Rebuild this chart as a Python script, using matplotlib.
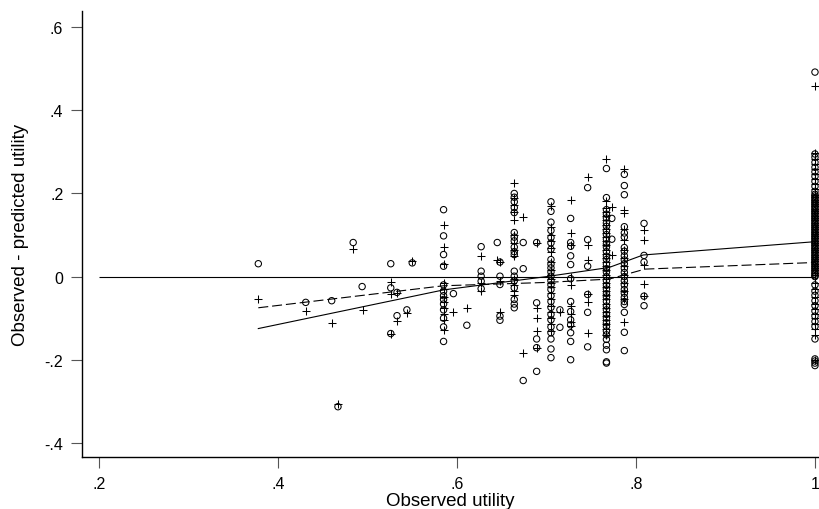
import matplotlib
matplotlib.use("Agg")
import matplotlib.pyplot as plt

plt.rcParams['font.family'] = ['Liberation Sans', 'DejaVu Sans']

# ---- data ----
# circles: residuals of model A ; plus: residuals of model B
circ_x = ([0.378, 0.431, 0.460, 0.467, 0.484, 0.494]
          + [0.526] * 3 + [0.533] * 2 + [0.544, 0.550]
          + [0.585] * 13 + [0.596, 0.611]
          + [0.627] * 5 + [0.645] + [0.648] * 5
          + [0.664] * 18 + [0.674] * 3 + [0.689] * 5
          + [0.705] * 25 + [0.715] * 2 + [0.727] * 13
          + [0.746] * 6 + [0.773] * 2 + [0.767] * 38
          + [0.787] * 24 + [0.809] * 5 + [1.0] * 75)
circ_y = ([0.031, -0.062, -0.058, -0.313, 0.082, -0.024]
          + [0.031, -0.027, -0.137] + [-0.038, -0.094] + [-0.080, 0.033]
          + [0.161, 0.098, 0.053, 0.025, -0.020, -0.035, -0.046, -0.055,
             -0.066, -0.080, -0.100, -0.121, -0.156]
          + [-0.041, -0.117]
          + [0.072, 0.013, 0.001, -0.011, -0.029] + [0.082]
          + [0.035, 0.001, -0.019, -0.095, -0.105]
          + [0.200, 0.191, 0.180, 0.166, 0.154, 0.106, 0.095, 0.086, 0.071,
             0.060, 0.053, 0.013, 0.001, -0.010, -0.027, -0.055, -0.066, -0.075]
          + [0.082, 0.019, -0.250]
          + [0.082, -0.063, -0.150, -0.171, -0.228]
          + [0.180, 0.157, 0.131, 0.111, 0.094, 0.081, 0.066, 0.041, 0.030,
             0.021, 0.011, 0.001, -0.010, -0.020, -0.031, -0.046, -0.060,
             -0.074, -0.091, -0.104, -0.121, -0.135, -0.150, -0.174, -0.195]
          + [-0.080, -0.122]
          + [0.140, 0.082, 0.073, 0.050, 0.029, -0.005, -0.060, -0.084,
             -0.104, -0.116, -0.135, -0.156, -0.200]
          + [0.214, 0.089, 0.025, -0.043, -0.086, -0.169]
          + [0.140, 0.090]
          + [0.260, 0.190, 0.161, 0.150, 0.141, 0.129, 0.121, 0.110, 0.101,
             0.090, 0.079, 0.071, 0.060, 0.049, 0.041, 0.030, 0.019, 0.011,
             0.000, -0.010, -0.021, -0.030, -0.041, -0.049, -0.060, -0.071,
             -0.080, -0.091, -0.100, -0.111, -0.120, -0.131, -0.140, -0.151,
             -0.165, -0.176, -0.205, -0.208]
          + [0.246, 0.219, 0.197, 0.120, 0.105, 0.095, 0.070, 0.061, 0.050,
             0.040, 0.031, 0.020, 0.010, 0.000, -0.010, -0.020, -0.031,
             -0.040, -0.050, -0.060, -0.067, -0.086, -0.134, -0.178]
          + [0.128, 0.051, 0.035, -0.047, -0.070]
          + [0.492, 0.295, 0.287, 0.275, 0.263, 0.252, 0.241, 0.229, 0.217,
             0.205, 0.198, 0.194, 0.190, 0.186, 0.182, 0.178, 0.174, 0.170,
             0.166, 0.162, 0.158, 0.154, 0.150, 0.146, 0.142, 0.138, 0.134,
             0.130, 0.126, 0.122, 0.118, 0.114, 0.110, 0.106, 0.102, 0.098,
             0.094, 0.090, 0.086, 0.082, 0.078, 0.074, 0.070, 0.066, 0.062,
             0.058, 0.054, 0.050, 0.046, 0.042, 0.038, 0.034, 0.030, 0.026,
             0.022, 0.018, 0.014, 0.010, 0.006, 0.002, 0.000,
             -0.020, -0.035, -0.045, -0.058, -0.070, -0.083, -0.095, -0.108,
             -0.120, -0.150, -0.198, -0.203, -0.208, -0.214])

plus_x = ([0.378, 0.431, 0.460, 0.467, 0.484, 0.495]
          + [0.526] * 3 + [0.533] * 2 + [0.544, 0.550]
          + [0.585] * 11 + [0.596, 0.611]
          + [0.627] * 3 + [0.645] + [0.648] * 3
          + [0.664] * 13 + [0.674] * 2 + [0.689] * 5
          + [0.705] * 19 + [0.715] + [0.727] * 9
          + [0.746] * 6 + [0.773] * 2 + [0.767] * 33
          + [0.787] * 13 + [0.809] * 5 + [1.0] * 56)
plus_y = ([-0.053, -0.082, -0.111, -0.306, 0.067, -0.080]
          + [-0.012, -0.043, -0.137] + [-0.040, -0.108] + [-0.087, 0.038]
          + [0.124, 0.071, 0.031, -0.015, -0.030, -0.050, -0.060, -0.075,
             -0.090, -0.105, -0.128]
          + [-0.084, -0.075]
          + [0.049, -0.015, -0.035] + [0.041] + [0.035, -0.011, -0.084]
          + [0.224, 0.190, 0.172, 0.155, 0.135, 0.100, 0.080, 0.065, 0.050,
             -0.005, -0.020, -0.035, -0.045]
          + [0.143, -0.184]
          + [0.082, -0.075, -0.099, -0.132, -0.171]
          + [0.170, 0.120, 0.100, 0.085, 0.070, 0.058, 0.035, 0.015, 0.005,
             -0.005, -0.015, -0.025, -0.040, -0.055, -0.070, -0.085, -0.100,
             -0.115, -0.130]
          + [-0.084]
          + [0.184, 0.104, 0.075, 0.000, -0.020, -0.070, -0.090, -0.110, -0.120]
          + [0.240, 0.075, 0.041, -0.043, -0.060, -0.135]
          + [0.168, 0.053]
          + [0.284, 0.181, 0.165, 0.155, 0.145, 0.135, 0.125, 0.115, 0.105,
             0.095, 0.085, 0.075, 0.065, 0.055, 0.045, 0.035, 0.025, 0.015,
             0.005, -0.005, -0.015, -0.025, -0.035, -0.045, -0.055, -0.065,
             -0.075, -0.085, -0.095, -0.105, -0.115, -0.125, -0.140]
          + [0.260, 0.161, 0.154, 0.115, 0.089, 0.065, 0.045, 0.025, 0.005,
             -0.015, -0.035, -0.055, -0.110]
          + [0.113, 0.087, 0.027, -0.018, -0.046]
          + [0.459, 0.298, 0.282, 0.270, 0.258, 0.246, 0.235, 0.222, 0.210,
             0.196, 0.191, 0.185, 0.180, 0.174, 0.169, 0.163, 0.158, 0.152,
             0.147, 0.141, 0.136, 0.130, 0.125, 0.119, 0.114, 0.108, 0.103,
             0.097, 0.092, 0.086, 0.081, 0.075, 0.070, 0.064, 0.059, 0.053,
             0.048, 0.042, 0.037, 0.031, 0.026, 0.020, 0.015, 0.009, 0.004,
             -0.015, -0.030, -0.050, -0.065, -0.078, -0.090, -0.100, -0.115,
             -0.125, -0.140, -0.200])

# smoothed (lowess) lines
solid_x = [0.378, 0.585, 0.700, 0.770, 0.808, 1.0]
solid_y = [-0.125, -0.032, 0.000, 0.022, 0.052, 0.084]
dash_x = [0.378, 0.585, 0.700, 0.770, 0.810, 1.0]
dash_y = [-0.075, -0.022, -0.014, -0.006, 0.018, 0.034]

xticks = [0.2, 0.4, 0.6, 0.8, 1.0]
xticklabels = ['.2', '.4', '.6', '.8', '1']
yticks = [-0.4, -0.2, 0.0, 0.2, 0.4, 0.6]
yticklabels = ['-.4', '-.2', '0', '.2', '.4', '.6']

# ---- figure ----
W, H = 819, 510
fig = plt.figure(figsize=(W / 100, H / 100), dpi=100)
ax = fig.add_axes([82 / W, 1 - 458 / H, (W - 82) / W, (458 - 12) / H])

ax.set_xlim(0.181, 1.0045)
ax.set_ylim(-0.434, 0.639)

ax.hlines(0, 0.2, 1.0, color='black', lw=0.8, zorder=2)
ax.plot(solid_x, solid_y, color='black', lw=0.8, zorder=3)
ax.plot(dash_x, dash_y, color='black', lw=0.8, dashes=(9, 3.5), zorder=3)

ax.scatter(circ_x, circ_y, s=21, facecolors='none', edgecolors='black',
           linewidths=0.75, zorder=4)
ax.scatter(plus_x, plus_y, s=28, marker='+', color='black',
           linewidths=0.75, zorder=4)

ax.set_xticks(xticks)
ax.set_xticklabels(xticklabels)
ax.set_yticks(yticks)
ax.set_yticklabels(yticklabels)
ax.tick_params(axis='both', length=8, width=0.8, pad=5.5, labelsize=11.5,
               color='#555555')
for side in ['top', 'right']:
    ax.spines[side].set_visible(False)
for side in ['left', 'bottom']:
    ax.spines[side].set_linewidth(1.0)

ax.set_xlabel('Observed utility', fontsize=13.5)
ax.xaxis.set_label_coords(0.5, -35 / 446)
ax.set_ylabel('Observed - predicted utility', fontsize=13.5)
ax.yaxis.set_label_coords(-53 / 737, 0.5)

fig.savefig('out.png', dpi=100)
